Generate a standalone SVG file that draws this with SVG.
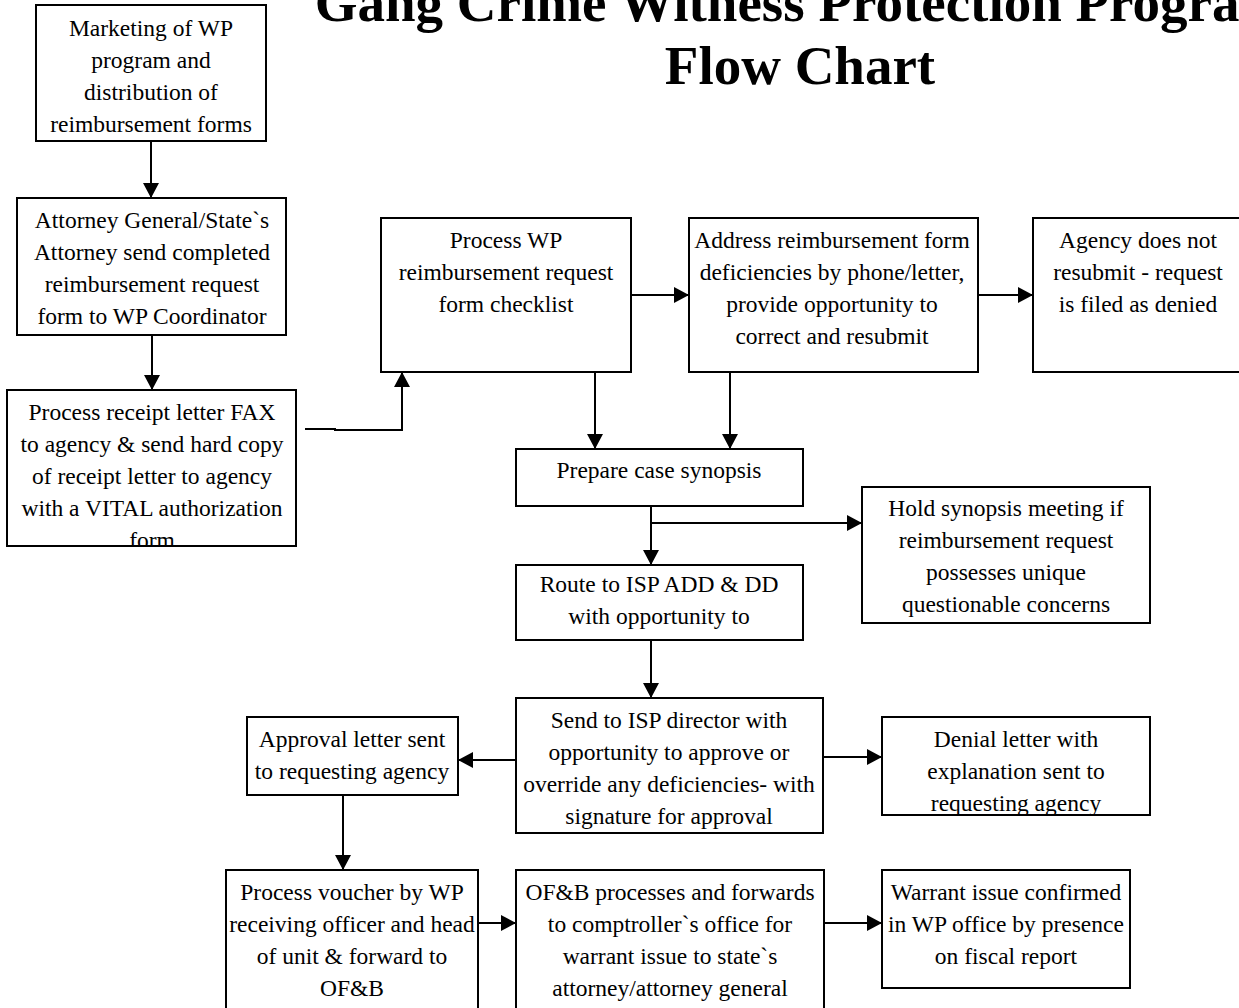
<svg xmlns="http://www.w3.org/2000/svg" width="1239" height="1008" viewBox="0 0 1239 1008">
<style>
.box{fill:#fff;stroke:#000;stroke-width:2}
.t{font-family:"Liberation Serif","Times New Roman",serif;font-size:23.5px;fill:#000;text-anchor:middle}
.title{font-family:"Liberation Serif","Times New Roman",serif;font-size:55px;font-weight:bold;fill:#000;text-anchor:middle}
.c{fill:none;stroke:#000;stroke-width:2}
</style>
<defs>
<marker id="ah" markerWidth="16" markerHeight="16" refX="15" refY="8" orient="auto" markerUnits="userSpaceOnUse"><path d="M0,0 L15,8 L0,16 z" fill="#000"/></marker>
<clipPath id="cp3"><rect x="8" y="391" width="287" height="154"/></clipPath>
<clipPath id="cp12"><rect x="883" y="718" width="266" height="96"/></clipPath>
</defs>
<rect width="1239" height="1008" fill="#fff"/>
<g id="title">
<text class="title" x="800" y="21">Gang Crime Witness Protection Program</text>
<text class="title" x="800" y="84">Flow Chart</text>
</g>
<g id="n1"><rect class="box" x="36" y="5" width="230" height="136"/>
<text class="t" x="151" y="36">Marketing of WP</text><text class="t" x="151" y="68">program and</text><text class="t" x="151" y="100">distribution of</text><text class="t" x="151" y="132">reimbursement forms</text></g>
<g id="n2"><rect class="box" x="17" y="198" width="269" height="137"/>
<text class="t" x="152" y="228">Attorney General/State`s</text><text class="t" x="152" y="260">Attorney send completed</text><text class="t" x="152" y="292">reimbursement request</text><text class="t" x="152" y="324">form to WP Coordinator</text></g>
<g id="n3"><rect class="box" x="7" y="390" width="289" height="156"/>
<g clip-path="url(#cp3)"><text class="t" x="152" y="420">Process receipt letter FAX</text><text class="t" x="152" y="452">to agency &amp; send hard copy</text><text class="t" x="152" y="484">of  receipt letter to agency</text><text class="t" x="152" y="516">with a VITAL authorization</text><text class="t" x="152" y="548">form</text></g></g>
<g id="n4"><rect class="box" x="381" y="218" width="250" height="154"/>
<text class="t" x="506" y="248">Process WP</text><text class="t" x="506" y="280">reimbursement request</text><text class="t" x="506" y="312">form checklist</text></g>
<g id="n5"><rect class="box" x="689" y="218" width="289" height="154"/>
<text class="t" x="832" y="248">Address reimbursement form</text><text class="t" x="832" y="280">deficiencies by phone/letter,</text><text class="t" x="832" y="312">provide opportunity to</text><text class="t" x="832" y="344">correct and resubmit</text></g>
<g id="n6"><rect class="box" x="1033" y="218" width="220" height="154"/>
<text class="t" x="1138" y="248">Agency does not</text><text class="t" x="1138" y="280">resubmit - request</text><text class="t" x="1138" y="312">is filed as denied</text></g>
<g id="n7"><rect class="box" x="516" y="449" width="287" height="57"/>
<text class="t" x="659" y="478">Prepare case synopsis</text></g>
<g id="n9"><rect class="box" x="862" y="487" width="288" height="136"/>
<text class="t" x="1006" y="516">Hold synopsis meeting if</text><text class="t" x="1006" y="548">reimbursement request</text><text class="t" x="1006" y="580">possesses unique</text><text class="t" x="1006" y="612">questionable concerns</text></g>
<g id="n8"><rect class="box" x="516" y="565" width="287" height="75"/>
<text class="t" x="659" y="592">Route to ISP ADD &amp; DD</text><text class="t" x="659" y="624">with opportunity to</text></g>
<g id="n10"><rect class="box" x="516" y="698" width="307" height="135"/>
<text class="t" x="669" y="728">Send to ISP director with</text><text class="t" x="669" y="760">opportunity to approve or</text><text class="t" x="669" y="792">override any deficiencies- with</text><text class="t" x="669" y="824">signature for approval</text></g>
<g id="n11"><rect class="box" x="247" y="717" width="211" height="78"/>
<text class="t" x="352" y="747">Approval letter sent</text><text class="t" x="352" y="779">to requesting agency</text></g>
<g id="n12"><rect class="box" x="882" y="717" width="268" height="98"/>
<g clip-path="url(#cp12)"><text class="t" x="1016" y="747">Denial letter with</text><text class="t" x="1016" y="779">explanation sent to</text><text class="t" x="1016" y="811">requesting agency</text></g></g>
<g id="n13"><rect class="box" x="226" y="870" width="252" height="150"/>
<text class="t" x="352" y="900">Process voucher by WP</text><text class="t" x="352" y="932">receiving officer and head</text><text class="t" x="352" y="964">of unit &amp; forward to</text><text class="t" x="352" y="996">OF&amp;B</text></g>
<g id="n14"><rect class="box" x="516" y="870" width="308" height="150"/>
<text class="t" x="670" y="900">OF&amp;B processes and forwards</text><text class="t" x="670" y="932">to comptroller`s office for</text><text class="t" x="670" y="964">warrant issue to state`s</text><text class="t" x="670" y="996">attorney/attorney general</text></g>
<g id="n15"><rect class="box" x="882" y="870" width="248" height="118"/>
<text class="t" x="1006" y="900">Warrant issue confirmed</text><text class="t" x="1006" y="932">in WP office by presence</text><text class="t" x="1006" y="964">on fiscal report</text></g>
<g id="connectors">
<path class="c" d="M151,141 V198" marker-end="url(#ah)"/>
<path class="c" d="M152,335 V390" marker-end="url(#ah)"/>
<path class="c" d="M305,429 H335 V430 H402 V372" marker-end="url(#ah)"/>
<path class="c" d="M631,295 H689" marker-end="url(#ah)"/>
<path class="c" d="M978,295 H1033" marker-end="url(#ah)"/>
<path class="c" d="M595,372 V449" marker-end="url(#ah)"/>
<path class="c" d="M730,372 V449" marker-end="url(#ah)"/>
<path class="c" d="M651,506 V565" marker-end="url(#ah)"/>
<path class="c" d="M651,523 H862" marker-end="url(#ah)"/>
<path class="c" d="M651,640 V698" marker-end="url(#ah)"/>
<path class="c" d="M516,760 H458" marker-end="url(#ah)"/>
<path class="c" d="M823,757 H882" marker-end="url(#ah)"/>
<path class="c" d="M343,795 V870" marker-end="url(#ah)"/>
<path class="c" d="M478,923 H516" marker-end="url(#ah)"/>
<path class="c" d="M824,923 H882" marker-end="url(#ah)"/>
</g>
</svg>
